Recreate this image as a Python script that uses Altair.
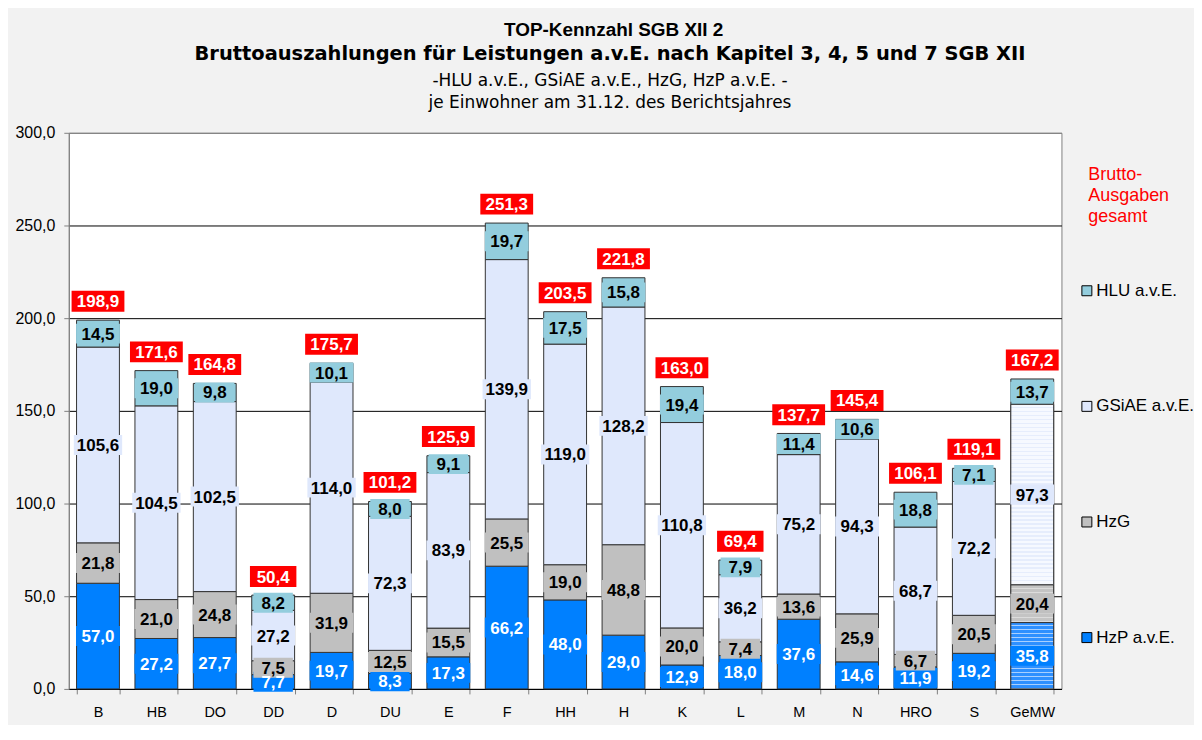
import altair as alt
import pandas as pd

categories = ["B", "HB", "DO", "DD", "D", "DU", "E", "F", "HH", "H", "K", "L", "M", "N", "HRO", "S", "GeMW"]
hzp   = [57.0, 27.2, 27.7, 7.7, 19.7, 8.3, 17.3, 66.2, 48.0, 29.0, 12.9, 18.0, 37.6, 14.6, 11.9, 19.2, 35.8]
hzg   = [21.8, 21.0, 24.8, 7.5, 31.9, 12.5, 15.5, 25.5, 19.0, 48.8, 20.0, 7.4, 13.6, 25.9, 6.7, 20.5, 20.4]
gsiae = [105.6, 104.5, 102.5, 27.2, 114.0, 72.3, 83.9, 139.9, 119.0, 128.2, 110.8, 36.2, 75.2, 94.3, 68.7, 72.2, 97.3]
hlu   = [14.5, 19.0, 9.8, 8.2, 10.1, 8.0, 9.1, 19.7, 17.5, 15.8, 19.4, 7.9, 11.4, 10.6, 18.8, 7.1, 13.7]
totals = [198.9, 171.6, 164.8, 50.4, 175.7, 101.2, 125.9, 251.3, 203.5, 221.8, 163.0, 69.4, 137.7, 145.4, 106.1, 119.1, 167.2]

series_names = ["HzP a.v.E.", "HzG", "GSiAE a.v.E.", "HLU a.v.E."]
legend_order = ["HLU a.v.E.", "GSiAE a.v.E.", "HzG", "HzP a.v.E."]
series_colors = {"HLU a.v.E.": "#93CDDD", "GSiAE a.v.E.": "#DFE8FC", "HzG": "#C0C0C0", "HzP a.v.E.": "#0080FF"}
FONT = "Liberation Sans"
TFONT = "DejaVu Sans"


def de(v):
    return f"{v:.1f}".replace(".", ",")


rows = []
for i, c in enumerate(categories):
    for k, (name, arr) in enumerate(zip(series_names, [hzp, hzg, gsiae, hlu])):
        rows.append({"cat": c, "series": name, "order": k, "value": arr[i], "label": de(arr[i])})
df = pd.DataFrame(rows)
tot_df = pd.DataFrame({"cat": categories, "total": totals, "label": [de(t) for t in totals]})

x_enc = alt.X("cat:N", sort=categories,
              scale=alt.Scale(paddingInner=0.266, paddingOuter=0.133),
              axis=alt.Axis(title=None, labelAngle=0, labelFontSize=14.5, labelFont=FONT, labelColor="black",
                            tickBand="extent", tickSize=5, tickColor="#808080", domainColor="black",
                            labelPadding=12))
y_scale = alt.Scale(domain=[0, 300], nice=False)
y_axis = alt.Axis(title=None, values=[0, 50, 100, 150, 200, 250, 300],
                  labelExpr="replace(format(datum.value, '.1f'), '.', ',')",
                  labelFontSize=16, labelFont=FONT, labelColor="black", labelPadding=9,
                  tickSize=5, tickColor="#808080", domainColor="#808080",
                  grid=True, gridColor={"condition": {"test": "datum.value === 300", "value": "#808080"}, "value": "black"},
                  gridWidth=1, minExtent=55, maxExtent=55)

color_scale = alt.Scale(domain=legend_order, range=[series_colors[s] for s in legend_order])


def box_path(a, b, h):
    w = f"({a} + {b}*length(datum.label))"
    return (f"'M' + (-{w}/2) + ',-{h}H' + ({w}/2) + 'V{h}H' + (-{w}/2) + 'Z'")


col_expr = ("datum.series === 'HzP a.v.E.' ? '%s' : datum.series === 'HzG' ? '%s' : "
            "datum.series === 'GSiAE a.v.E.' ? '%s' : '%s'") % (
    series_colors["HzP a.v.E."], series_colors["HzG"], series_colors["GSiAE a.v.E."], series_colors["HLU a.v.E."])

base = (alt.Chart(df)
        .transform_stack(stack="value", groupby=["cat"], as_=["v0", "v1"],
                         sort=[alt.SortField("order", order="ascending")])
        .transform_calculate(mid="(datum.v0 + datum.v1) / 2", path=box_path(26, 4.5, 10), boxcol=col_expr))

bars = base.mark_bar(stroke="#333333", strokeWidth=1).encode(
    x=x_enc,
    y=alt.Y("v0:Q", scale=y_scale, axis=y_axis),
    y2="v1:Q",
    color=alt.Color("series:N", scale=color_scale, legend=alt.Legend(
        orient="none", legendX=1023, legendY=33,
        title=["Brutto-", "Ausgaben", "gesamt"], titleColor="#FF0000", titleFontSize=18,
        titleFontWeight="normal", titleFont=FONT, titleLineHeight=21.5, titlePadding=56,
        labelFontSize=17, labelFont=FONT, labelColor="black", labelLimit=300,
        symbolType="square", symbolSize=100, symbolStrokeColor="black", symbolStrokeWidth=1,
        symbolOffset=-10, labelOffset=1, rowPadding=98)),
)


def stripes(c1, c2, n, frac=0.7):
    stops = []
    for i in range(n):
        a = i / n
        b = (i + frac) / n
        c = (i + 1) / n
        stops += [{"offset": a, "color": c1}, {"offset": b, "color": c1},
                  {"offset": b, "color": c2}, {"offset": c, "color": c2}]
    return {"gradient": "linear", "x1": 0, "y1": 0, "x2": 0, "y2": 1, "stops": stops}


def striped(series, fill):
    return (base.transform_filter((alt.datum.cat == "GeMW") & (alt.datum.series == series))
            .mark_bar(fill=fill, stroke="#333333", strokeWidth=1)
            .encode(x=x_enc, y=alt.Y("v0:Q", scale=y_scale, axis=y_axis), y2="v1:Q"))


s_hzp = striped("HzP a.v.E.", stripes("#2E90FF", "#A8D0FF", 17))
s_hzg = striped("HzG", stripes("#C4C4C4", "#DCDCDC", 9))
s_gsi = striped("GSiAE a.v.E.", stripes("#F6F9FF", "#E6EDFC", 45))

boxes = base.mark_point(filled=True, opacity=1, size=4, strokeWidth=0).encode(
    x=x_enc, y=alt.Y("mid:Q", scale=y_scale),
    shape=alt.Shape("path:N", scale=None),
    fill=alt.Fill("boxcol:N", scale=None),
)
labels = base.mark_text(fontSize=17, fontWeight="bold", font=FONT, baseline="middle", dy=1).encode(
    x=x_enc, y=alt.Y("mid:Q", scale=y_scale), text="label:N",
    color=alt.condition(alt.datum.series == "HzP a.v.E.", alt.value("white"), alt.value("black")),
)

tot_base = alt.Chart(tot_df).transform_calculate(path=box_path(21, 6.4, 10.5))
tot_boxes = tot_base.mark_point(filled=True, opacity=1, size=4, strokeWidth=0, color="#FF0000", yOffset=-19).encode(
    x=x_enc, y=alt.Y("total:Q", scale=y_scale), shape=alt.Shape("path:N", scale=None))
tot_labels = tot_base.mark_text(fontSize=17, fontWeight="bold", font=FONT, color="white", baseline="middle",
                                yOffset=-18).encode(
    x=x_enc, y=alt.Y("total:Q", scale=y_scale), text="label:N")

inner = alt.layer(bars, s_hzp, s_hzg, s_gsi, boxes, labels, tot_boxes, tot_labels).properties(
    width=996, height=558,
    title=alt.TitleParams(
        text="Bruttoauszahlungen für Leistungen a.v.E. nach Kapitel 3, 4, 5 und 7 SGB XII",
        subtitle=["-HLU a.v.E., GSiAE a.v.E., HzG, HzP a.v.E. -", "je Einwohner am 31.12. des Berichtsjahres"],
        font=TFONT, fontSize=19.5, fontWeight="bold", color="black",
        subtitleFont=TFONT, subtitleFontSize=17, subtitleColor="black", subtitleLineHeight=22,
        subtitlePadding=9, anchor="middle", frame="group", offset=13, dx=45),
)

chart = (alt.vconcat(inner, title=alt.TitleParams(
    text="TOP-Kennzahl SGB XII 2", font=FONT, fontSize=19, fontWeight="bold", color="black",
    anchor="middle", frame="bounds", offset=3, dx=10))
    .properties(padding={"left": 5, "top": 12, "right": 0, "bottom": 4})
    .configure(background="#F2F2F2")
    .configure_view(fill="white", stroke="#808080", strokeWidth=1)
    .configure_concat(spacing=0))

chart.save("out.html", embed_options={"renderer": "svg", "actions": False})
